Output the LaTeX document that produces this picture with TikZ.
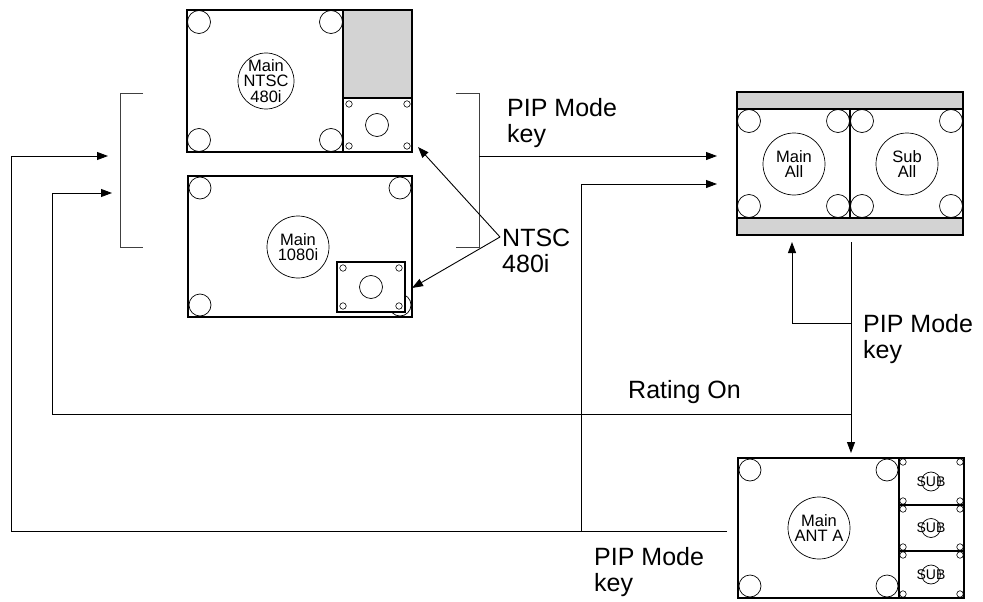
\documentclass[tikz,border=0pt]{standalone}
\usepackage{fontspec}
\setmainfont{Liberation Sans}
\usetikzlibrary{arrows.meta}
\definecolor{scrgray}{RGB}{211,211,211}
\begin{document}
\begin{tikzpicture}[x=1pt,y=-1pt,
  scr/.style={draw, line width=1.5pt, inner sep=0pt, outer sep=0pt, anchor=north west},
  ring/.style={draw, circle, line width=0.7pt, inner sep=0pt, outer sep=0pt},
  sring/.style={ring, minimum size=6.5pt, line width=0.6pt},
  cnr/.style={ring, minimum size=23pt},
  cnrs/.style={ring, minimum size=22pt},
  inlbl/.style={align=center, font=\fontsize{16.5}{15.5}\selectfont, inner sep=0pt},
  sublbl/.style={font=\fontsize{14}{14}\selectfont, inner sep=0pt},
  biglbl/.style={align=left, font=\fontsize{25}{26}\selectfont, inner sep=0pt, anchor=base west},
  conn/.style={line width=0.9pt},
  arr/.style={conn, -{Triangle[length=11pt,width=8pt]}},
  brk/.style={line width=0.8pt, draw=black!75},
  sep/.style={line width=1.5pt},
]
\useasboundingbox (0,0) rectangle (983,602);

% ---------- Screen A (Main NTSC 480i) ----------
\fill[scrgray] (343,10) rectangle (412,98);
\node[scr, minimum width=225pt, minimum height=142pt] (scrA) at (187,10) {};
\draw[sep] (343,10) -- (343,152) (343,98) -- (412,98);
\node[cnr] (a1) at (199,22) {};
\node[cnr] (a2) at (331,22) {};
\node[cnr] (a3) at (199,140) {};
\node[cnr] (a4) at (331,140) {};
\node[ring, minimum size=56pt] (mA) at (266,81) {};
\node[inlbl] (tA) at (mA) {Main\\NTSC\\480i};
\node[sring] (as1) at (349,104) {};
\node[sring] (as2) at (407,104) {};
\node[sring] (as3) at (349,146) {};
\node[sring] (as4) at (407,146) {};
\node[ring, minimum size=23pt] (as5) at (377,125) {};

% ---------- Screen B (Main 1080i) ----------
\node[scr, minimum width=224pt, minimum height=141pt] (scrB) at (188,176) {};
\node[cnrs] (b1) at (200,188) {};
\node[cnrs] (b2) at (400,188) {};
\node[cnrs] (b3) at (200,305) {};
\node[cnrs] (b4) at (400,305) {};
\node[ring, minimum size=62pt] (mB) at (298,247) {};
\node[inlbl] (tB) at (mB) {Main\\1080i};
\node[scr, fill=white, minimum width=68pt, minimum height=50pt] (pipB) at (337,262) {};
\node[sring] (bs1) at (343,268) {};
\node[sring] (bs2) at (399,268) {};
\node[sring] (bs3) at (343,306) {};
\node[sring] (bs4) at (399,306) {};
\node[ring, minimum size=23pt] (bs5) at (371,287) {};

% ---------- Screen C (Main All / Sub All) ----------
\fill[scrgray] (737,92) rectangle (963,109);
\fill[scrgray] (737,218) rectangle (963,235);
\node[scr, minimum width=226pt, minimum height=143pt] (scrC) at (737,92) {};
\draw[sep] (737,109) -- (963,109) (737,218) -- (963,218) (850,109) -- (850,218);
\node[cnr] (c1) at (749,121) {};
\node[cnr] (c2) at (838,121) {};
\node[cnr] (c3) at (749,206) {};
\node[cnr] (c4) at (838,206) {};
\node[cnr] (c5) at (862,121) {};
\node[cnr] (c6) at (951,121) {};
\node[cnr] (c7) at (862,206) {};
\node[cnr] (c8) at (951,206) {};
\node[ring, minimum size=62pt] (mC) at (794,164) {};
\node[inlbl] (tC) at (mC) {Main\\All};
\node[ring, minimum size=62pt] (sC) at (907,164) {};
\node[inlbl] (tS) at (sC) {Sub\\All};

% ---------- Screen D (Main ANT A + 3 SUB) ----------
\node[scr, minimum width=226pt, minimum height=140pt] (scrD) at (738,458) {};
\draw[sep] (899,458) -- (899,598) (899,505) -- (964,505) (899,551) -- (964,551);
\node[cnrs] (d1) at (750,470) {};
\node[cnrs] (d2) at (887,470) {};
\node[cnrs] (d3) at (750,586) {};
\node[cnrs] (d4) at (887,586) {};
\node[ring, minimum size=62pt] (mD) at (819,528) {};
\node[inlbl] (tD) at (mD) {Main\\ANT A};
\foreach \t/\b/\n in {458/505/1, 505/551/2, 551/598/3}{
  \node[sring] (ds\n a) at (903,\t+4) {};
  \node[sring] (ds\n b) at (960,\t+4) {};
  \node[sring] (ds\n c) at (903,\b-4) {};
  \node[sring] (ds\n d) at (960,\b-4) {};
  \node[ring, minimum size=19pt] (dsc\n) at (931,{(\t+\b)/2}) {};
  \node[sublbl] (dst\n) at (dsc\n) {SUB};
}

% ---------- Brackets ----------
\draw[brk] (143,93) -- (120,93) -- (120,247) -- (143,247);
\draw[brk] (456,93) -- (479,93) -- (479,247) -- (456,247);

% ---------- Labels (anchored at baseline of last line) ----------
\node[biglbl] (k1) at (507,142) {PIP Mode\\key};
\node[biglbl] (k2) at (863,358) {PIP Mode\\key};
\node[biglbl] (k3) at (594,591) {PIP Mode\\key};
\node[biglbl] (ntsc) at (502,272) {NTSC\\480i};
\node[biglbl] (rat) at (628,398) {Rating On};

% ---------- Connector coordinates ----------
\coordinate (bR) at (479,156);
\coordinate (pC1) at (717,156);
\coordinate (pC2) at (717,184);
\coordinate (pL1) at (108,156);
\coordinate (pL2) at (112,193);
\coordinate (cBot) at (851,242);
\coordinate (dTop) at (851,453);
\coordinate (j1) at (851,323);
\coordinate (cUp) at (792,242);
\coordinate (j2) at (851,414);
\coordinate (dLeft) at (727,531);
\coordinate (j3) at (581,531);
\coordinate (ntL) at (500,237);
\coordinate (tipA) at (418,147);
\coordinate (tipB) at (412,288);

% ---------- Connectors ----------
\draw[arr] (bR) -- (pC1);
\draw[arr] (cBot) -- (dTop);
\draw[arr] (j1) -- (cUp |- j1) -- (cUp);
\draw[arr] (j2) -- (52,414) -- (52,193) -- (pL2);
\draw[arr] (dLeft) -- (11,531) -- (11,156) -- (pL1);
\draw[arr] (j3) -- (j3 |- pC2) -- (pC2);
\draw[arr] (ntL) -- (tipA);
\draw[arr] (ntL) -- (tipB);
\end{tikzpicture}
\end{document}
